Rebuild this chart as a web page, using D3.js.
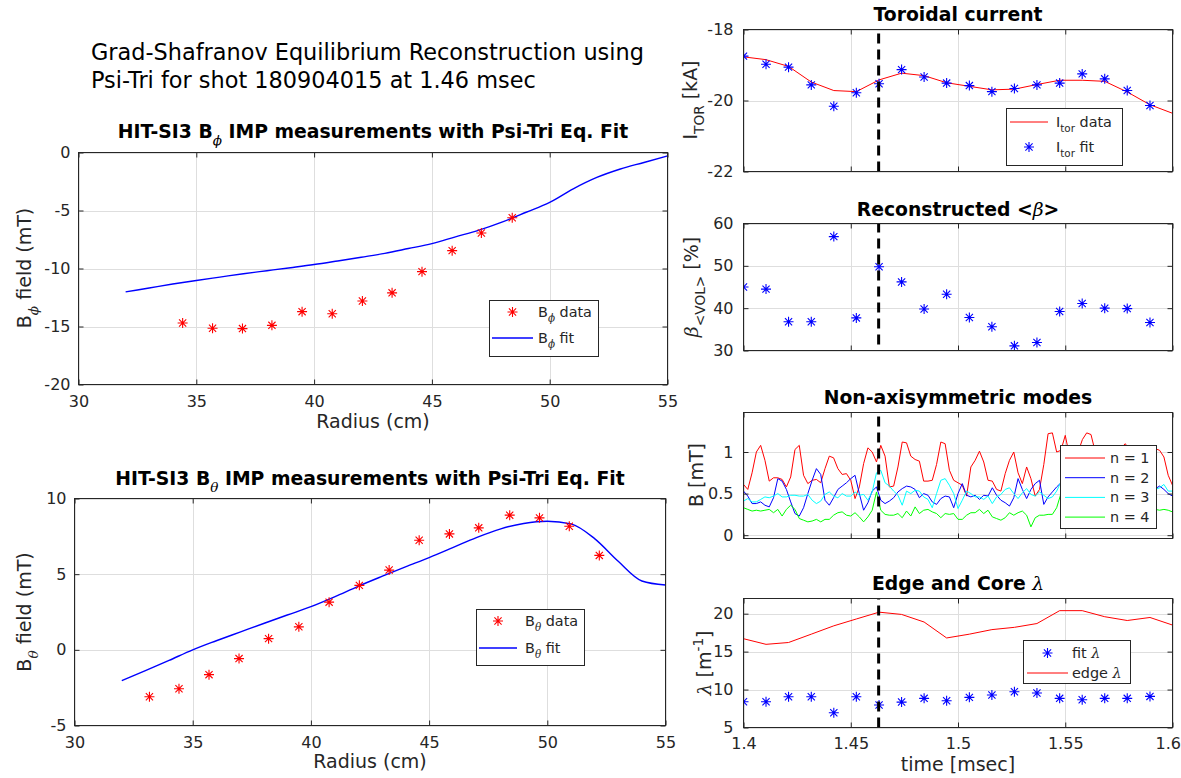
<!DOCTYPE html>
<html><head><meta charset="utf-8">
<script src="https://cdn.jsdelivr.net/npm/d3@7"></script>
<style>
body{margin:0;background:#fff;}
svg text{font-family:"DejaVu Sans",sans-serif;}
</style></head><body>
<svg id="c" width="1181" height="778"></svg>
<script>
// ---------------- data ----------------
const radiusTicks = [30,35,40,45,50,55];
const bphiTicks = [-20,-15,-10,-5,0];
const bthetaTicks = [-5,0,5,10];
const bphiR = [34.42,35.69,36.96,38.21,39.49,40.77,42.05,43.31,44.58,45.86,47.1,48.41];
const bphiData = [-14.7,-15.15,-15.18,-14.9,-13.72,-13.9,-12.8,-12.1,-10.27,-8.46,-6.94,-5.62];
const bthetaR = [33.17,34.42,35.69,36.96,38.21,39.49,40.77,42.05,43.31,44.58,45.86,47.1,48.41,49.67,50.93,52.2];
const bthetaData = [-3.1,-2.57,-1.64,-0.58,0.74,1.52,3.15,4.26,5.27,7.24,7.66,8.06,8.9,8.72,8.17,6.24];
const fitR = [32,33,34,35,36,37,38,39,40,41,42,43,44,45,46,47,48,49,50,51,52,53,54,55];
const bphiFit = [-12.02,-11.68,-11.34,-11.03,-10.74,-10.45,-10.19,-9.93,-9.66,-9.35,-9.03,-8.70,-8.28,-7.85,-7.27,-6.69,-5.98,-5.15,-4.30,-3.13,-2.15,-1.42,-0.86,-0.29];
const bthetaFit = [-2.04,-1.38,-0.70,0.00,0.60,1.17,1.74,2.30,2.85,3.50,4.20,4.85,5.48,6.09,6.75,7.42,7.98,8.35,8.50,8.32,7.35,5.85,4.55,4.28];

const timeTicks = [1.4,1.45,1.5,1.55,1.6];
const snapshotTime = 1.463;
const fitTimes = [1.400,1.4105,1.421,1.4316,1.4421,1.4526,1.4632,1.4737,1.4842,1.4947,1.5053,1.5158,1.5263,1.5368,1.5474,1.5579,1.5684,1.5789,1.5895];
const dataTimes = [1.400,1.4105,1.421,1.4316,1.4421,1.4526,1.4632,1.4737,1.4842,1.4947,1.5053,1.5158,1.5263,1.5368,1.5474,1.5579,1.5684,1.5789,1.5895,1.600];
const itorTicks = [-22,-20,-18];
const itorData = [-18.77,-18.85,-19.04,-19.48,-19.72,-19.75,-19.42,-19.23,-19.30,-19.50,-19.60,-19.70,-19.68,-19.55,-19.43,-19.43,-19.46,-19.76,-20.12,-20.36];
const itorFit = [-18.75,-18.98,-19.06,-19.56,-20.16,-19.78,-19.53,-19.13,-19.34,-19.51,-19.58,-19.75,-19.66,-19.56,-19.51,-19.25,-19.39,-19.72,-20.14];
const betaTicks = [30,40,50,60];
const betaVol = [45.0,44.5,36.8,36.8,56.9,37.7,49.8,46.2,39.8,43.3,37.8,35.6,31.1,31.9,39.2,41.1,40.0,39.9,36.6];
const lambdaTicks = [5,10,15,20];
const lambdaFit = [8.4,8.4,9.06,9.06,6.94,9.06,7.96,8.35,8.84,8.53,8.97,9.28,9.72,9.55,8.84,8.66,8.84,8.84,9.1];
const lambdaEdge = [16.7,15.96,16.2,17.3,18.4,19.3,20.2,19.9,18.9,16.8,17.3,17.9,18.2,18.7,20.4,20.4,19.6,19.1,19.5,18.5];

const modeTicks = [0,0.5,1];
const modeTimes = [1.400,1.402,1.404,1.406,1.408,1.410,1.412,1.414,1.416,1.418,
 1.420,1.422,1.424,1.426,1.428,1.430,1.432,1.434,1.436,1.438,
 1.440,1.442,1.444,1.446,1.448,1.450,1.452,1.454,1.456,1.458,
 1.460,1.462,1.464,1.466,1.468,1.470,1.472,1.474,1.476,1.478,
 1.480,1.482,1.484,1.486,1.488,1.490,1.492,1.494,1.496,1.498,
 1.500,1.502,1.504,1.506,1.508,1.510,1.512,1.514,1.516,1.518,
 1.520,1.522,1.524,1.526,1.528,1.530,1.532,1.534,1.536,1.538,
 1.540,1.542,1.544,1.546,1.548,1.550,1.552,1.554,1.556,1.558,
 1.560,1.562,1.564,1.566,1.568,1.570,1.572,1.574,1.576,1.578,
 1.580,1.582,1.584,1.586,1.588,1.590,1.592,1.594,1.596,1.598,
 1.600];
const modeN1 = [0.61,0.55,0.75,1.00,1.08,0.90,0.65,0.69,0.69,0.67,
 0.58,0.70,1.03,1.08,0.72,0.62,0.66,0.67,0.63,0.80,
 0.95,0.93,0.80,0.73,0.74,0.66,0.44,0.58,0.86,1.05,
 1.00,0.88,1.08,0.95,0.58,0.59,0.82,1.12,1.11,0.95,
 0.91,0.89,0.65,0.65,0.66,0.85,1.12,1.10,0.78,0.66,
 0.63,0.60,0.47,0.82,0.90,1.01,0.88,0.66,0.65,0.55,
 0.53,0.74,0.90,1.00,0.75,0.62,0.82,0.68,0.47,0.55,
 0.85,1.22,1.23,1.00,1.02,1.20,0.95,0.85,1.00,1.15,
 1.23,1.21,1.00,0.85,0.80,0.90,0.95,1.00,1.05,1.10,
 1.02,0.95,0.92,0.98,1.02,1.03,1.04,1.02,0.94,0.72,
 0.60];
const modeN2 = [0.53,0.47,0.38,0.38,0.40,0.36,0.34,0.45,0.68,0.65,
 0.55,0.40,0.26,0.23,0.33,0.50,0.66,0.80,0.73,0.42,
 0.36,0.45,0.55,0.59,0.63,0.68,0.72,0.50,0.30,0.39,
 0.53,0.58,0.42,0.38,0.41,0.45,0.52,0.56,0.59,0.58,
 0.55,0.45,0.50,0.48,0.40,0.37,0.44,0.47,0.46,0.33,
 0.50,0.62,0.48,0.46,0.48,0.43,0.48,0.47,0.57,0.48,
 0.42,0.39,0.35,0.45,0.68,0.55,0.44,0.55,0.62,0.66,
 0.37,0.46,0.52,0.58,0.63,0.62,0.55,0.50,0.47,0.52,
 0.58,0.55,0.48,0.45,0.52,0.57,0.53,0.49,0.46,0.52,
 0.56,0.50,0.47,0.53,0.58,0.55,0.56,0.59,0.55,0.50,
 0.47];
const modeN3 = [0.41,0.44,0.40,0.40,0.43,0.46,0.45,0.47,0.50,0.46,
 0.46,0.48,0.48,0.47,0.47,0.49,0.42,0.38,0.41,0.49,
 0.52,0.47,0.45,0.50,0.47,0.47,0.52,0.48,0.49,0.42,
 0.52,0.75,0.78,0.63,0.59,0.53,0.48,0.36,0.53,0.50,
 0.54,0.53,0.46,0.43,0.33,0.50,0.66,0.68,0.60,0.50,
 0.32,0.42,0.53,0.50,0.46,0.46,0.43,0.47,0.38,0.46,
 0.49,0.55,0.57,0.50,0.44,0.51,0.56,0.49,0.47,0.52,
 0.48,0.44,0.46,0.53,0.64,0.60,0.55,0.50,0.52,0.57,
 0.53,0.49,0.54,0.58,0.52,0.48,0.53,0.56,0.50,0.47,
 0.52,0.55,0.50,0.53,0.57,0.52,0.55,0.57,0.61,0.53,
 0.53];
const modeN4 = [0.33,0.31,0.29,0.30,0.29,0.30,0.31,0.27,0.31,0.23,
 0.31,0.36,0.31,0.20,0.18,0.16,0.17,0.19,0.16,0.19,
 0.19,0.24,0.27,0.28,0.24,0.23,0.27,0.22,0.16,0.22,
 0.30,0.52,0.30,0.25,0.24,0.24,0.26,0.21,0.29,0.23,
 0.34,0.26,0.30,0.31,0.28,0.26,0.21,0.26,0.25,0.26,
 0.19,0.19,0.24,0.27,0.27,0.31,0.26,0.30,0.22,0.20,
 0.18,0.21,0.27,0.24,0.27,0.29,0.24,0.10,0.21,0.24,
 0.24,0.25,0.25,0.33,0.50,0.56,0.45,0.38,0.34,0.31,
 0.33,0.29,0.31,0.34,0.30,0.28,0.32,0.35,0.31,0.29,
 0.33,0.30,0.28,0.31,0.30,0.30,0.31,0.30,0.31,0.30,
 0.28];

// ---------------- drawing ----------------
const svg = d3.select('#c');
svg.append('rect').attr('width',1181).attr('height',778).attr('fill','#fff');
const AX = '#262626', GRID = '#dedede', TICK_FS = 16, LAB_FS = 19, TITLE_FS = 18.8, LEG_FS = 14.4;
const PHI = '\u03D5', THETA = '\u03B8';
let clipN = 0;

function rich(parent, parts, o) {
  const t = parent.append('text').attr('x', o.x).attr('y', o.y)
    .attr('font-size', o.size).attr('text-anchor', o.anchor || 'start')
    .attr('font-weight', o.weight || 'normal').attr('fill', o.fill || AX);
  if (o.rotate) t.attr('transform', `rotate(-90,${o.x},${o.y})`);
  let shift = 0;
  parts.forEach(p => {
    const s = (typeof p === 'string') ? {t: p} : p;
    const ts = t.append('tspan').text(s.t);
    let target = 0, fs = o.size;
    if (s.sub) { target = o.size * 0.38; fs = o.size * 0.72; }
    if (s.sup) { target = -o.size * 0.42; fs = o.size * 0.72; }
    ts.attr('dy', target - shift).attr('font-size', fs);
    shift = target;
    if (s.greek) ts.attr('font-family', 'DejaVu Serif').attr('font-style', 'italic').attr('font-weight','normal');
  });
  return t;
}

function starPath(cx, cy, r) {
  const d = r * 0.72;
  return `M${cx-r},${cy}H${cx+r}M${cx},${cy-r}V${cy+r}M${cx-d},${cy-d}L${cx+d},${cy+d}M${cx-d},${cy+d}L${cx+d},${cy-d}`;
}

function panel(o) {
  const x = d3.scaleLinear().domain(o.xd).range([o.l, o.r]);
  const y = d3.scaleLinear().domain(o.yd).range([o.b, o.t]);
  const id = 'clip' + (clipN++);
  svg.append('clipPath').attr('id', id).append('rect')
    .attr('x', o.l).attr('y', o.t).attr('width', o.r - o.l).attr('height', o.b - o.t);
  const grid = svg.append('g');
  grid.selectAll('line.gx').data(o.xt).join('line').attr('class','gx')
    .attr('x1', d => Math.round(x(d)) + 0.5).attr('x2', d => Math.round(x(d)) + 0.5)
    .attr('y1', o.t).attr('y2', o.b).attr('stroke', GRID);
  grid.selectAll('line.gy').data(o.yt).join('line').attr('class','gy')
    .attr('y1', d => Math.round(y(d)) + 0.5).attr('y2', d => Math.round(y(d)) + 0.5)
    .attr('x1', o.l).attr('x2', o.r).attr('stroke', GRID);
  const plot = svg.append('g').attr('clip-path', `url(#${id})`);
  const axes = svg.append('g');
  function styleAxis(g) {
    g.select('.domain').remove();
    g.selectAll('.tick line').attr('stroke', AX);
    g.selectAll('.tick text').attr('fill', AX).attr('font-size', TICK_FS)
      .attr('font-family', '"DejaVu Sans",sans-serif');
  }
  const fmt = d => String(d);
  const p = {x, y, plot, o, draw() {
    p.bottomAxis = axes.append('g').attr('transform', `translate(0,${o.b})`)
      .call(d3.axisBottom(x).tickValues(o.xt).tickSize(-5).tickSizeOuter(0).tickPadding(o.xpad)
        .tickFormat(o.showX ? fmt : () => '')).call(styleAxis);
    axes.append('g').attr('transform', `translate(0,${o.t})`)
      .call(d3.axisTop(x).tickValues(o.xt).tickSize(-5).tickSizeOuter(0).tickFormat(() => '')).call(styleAxis);
    axes.append('g').attr('transform', `translate(${o.l},0)`)
      .call(d3.axisLeft(y).tickValues(o.yt).tickSize(-5).tickSizeOuter(0).tickPadding(o.ypad).tickFormat(fmt)).call(styleAxis);
    axes.append('g').attr('transform', `translate(${o.r},0)`)
      .call(d3.axisRight(y).tickValues(o.yt).tickSize(-5).tickSizeOuter(0).tickFormat(() => '')).call(styleAxis);
    axes.append('rect').attr('x', o.l).attr('y', o.t).attr('width', o.r - o.l).attr('height', o.b - o.t)
      .attr('fill', 'none').attr('stroke', AX);
  }};
  return p;
}

function stars(p, xs, ys, color, r) {
  p.plot.append('g').selectAll('path').data(xs.map((v, i) => [v, ys[i]])).join('path')
    .attr('d', d => starPath(p.x(d[0]), p.y(d[1]), r || 5))
    .attr('stroke', color).attr('stroke-width', 1.1).attr('fill', 'none');
}
function line(p, xs, ys, color, w, curve) {
  const gen = d3.line().x(d => p.x(d[0])).y(d => p.y(d[1]));
  if (curve) gen.curve(curve);
  p.plot.append('path').datum(xs.map((v, i) => [v, ys[i]])).attr('d', gen)
    .attr('fill', 'none').attr('stroke', color).attr('stroke-width', w || 1).attr('stroke-linejoin','round');
}
function vdash(p, t, y0, y1) {
  p.plot.append('line').attr('x1', p.x(t)).attr('x2', p.x(t)).attr('y1', p.y(y0)).attr('y2', p.y(y1))
    .attr('stroke', '#000').attr('stroke-width', 3).attr('stroke-dasharray', '10,6');
}
function legend(box, entries) {
  const g = svg.append('g');
  g.append('rect').attr('x', box.x + 0.5).attr('y', box.y + 0.5).attr('width', box.w).attr('height', box.h)
    .attr('fill', '#fff').attr('stroke', AX);
  entries.forEach(e => {
    if (e.type === 'line') {
      g.append('line').attr('x1', e.x1).attr('x2', e.x2).attr('y1', e.y).attr('y2', e.y)
        .attr('stroke', e.color).attr('stroke-width', e.w || 1);
    } else {
      g.append('path').attr('d', starPath((e.x1 + e.x2) / 2, e.y, 5)).attr('stroke', e.color).attr('stroke-width', 1.1).attr('fill','none');
    }
    rich(g, e.parts, {x: e.tx, y: e.y + 5, size: LEG_FS, fill: AX});
  });
}

// ---- main title ----
rich(svg, ['Grad-Shafranov Equilibrium Reconstruction using'], {x: 91, y: 60, size: 22.4, fill: '#000'});
rich(svg, ['Psi-Tri for shot 180904015 at 1.46 msec'], {x: 91, y: 88, size: 22.4, fill: '#000'});

// ---- B_phi panel ----
const p1 = panel({l: 78.5, r: 667.5, t: 152.5, b: 384.5, xd: [30, 55], yd: [-20, 0], xt: radiusTicks, yt: bphiTicks, showX: true, xpad: 11, ypad: 8});
line(p1, fitR, bphiFit, '#0000ff', 1.4, d3.curveMonotoneX);
stars(p1, bphiR, bphiData, '#ff0000');
p1.draw();
rich(svg, ['HIT-SI3 B', {t: PHI, sub: true, greek: true}, ' IMP measurements with Psi-Tri Eq. Fit'], {x: 373, y: 138, size: TITLE_FS, anchor: 'middle', weight: 'bold', fill: '#000'});
rich(svg, ['B', {t: PHI, sub: true, greek: true}, ' field (mT)'], {x: 31, y: 268, size: LAB_FS, anchor: 'middle', rotate: true});
rich(svg, ['Radius (cm)'], {x: 373, y: 428, size: LAB_FS, anchor: 'middle'});
legend({x: 489, y: 300, w: 109, h: 56}, [
  {type: 'star', color: '#ff0000', x1: 492, x2: 533, y: 312, tx: 538, parts: ['B', {t: PHI, sub: true, greek: true}, ' data']},
  {type: 'line', color: '#0000ff', w: 1.4, x1: 492, x2: 533, y: 338, tx: 538, parts: ['B', {t: PHI, sub: true, greek: true}, ' fit']}
]);

// ---- B_theta panel ----
const p2 = panel({l: 74.5, r: 665.5, t: 498.5, b: 725.5, xd: [30, 55], yd: [-5, 10], xt: radiusTicks, yt: bthetaTicks, showX: true, xpad: 11, ypad: 8});
line(p2, fitR, bthetaFit, '#0000ff', 1.4, d3.curveMonotoneX);
stars(p2, bthetaR, bthetaData, '#ff0000');
p2.draw();
rich(svg, ['HIT-SI3 B', {t: THETA, sub: true, greek: true}, ' IMP measurements with Psi-Tri Eq. Fit'], {x: 370, y: 485, size: TITLE_FS, anchor: 'middle', weight: 'bold', fill: '#000'});
rich(svg, ['B', {t: THETA, sub: true, greek: true}, ' field (mT)'], {x: 31, y: 612, size: LAB_FS, anchor: 'middle', rotate: true});
rich(svg, ['Radius (cm)'], {x: 370, y: 768, size: LAB_FS, anchor: 'middle'});
legend({x: 476, y: 609, w: 108, h: 56}, [
  {type: 'star', color: '#ff0000', x1: 479, x2: 517, y: 621, tx: 525, parts: ['B', {t: THETA, sub: true, greek: true}, ' data']},
  {type: 'line', color: '#0000ff', w: 1.4, x1: 479, x2: 517, y: 648, tx: 525, parts: ['B', {t: THETA, sub: true, greek: true}, ' fit']}
]);

// ---- right column ----
const RL = 743.5, RR = 1172.5, RC = 958;
const q1 = panel({l: RL, r: RR, t: 29.5, b: 171.5, xd: [1.4, 1.6], yd: [-22, -18], xt: timeTicks, yt: itorTicks, showX: false, xpad: 10, ypad: 10});
line(q1, dataTimes, itorData, '#ff0000', 1);
stars(q1, fitTimes, itorFit, '#0000ff');
vdash(q1, snapshotTime, -22, -18);
q1.draw();
rich(svg, ['Toroidal current'], {x: RC, y: 21, size: TITLE_FS, anchor: 'middle', weight: 'bold', fill: '#000'});
rich(svg, ['I', {t: 'TOR', sub: true}, ' [kA]'], {x: 697, y: 100, size: LAB_FS, anchor: 'middle', rotate: true});
legend({x: 1006, y: 108, w: 116, h: 57}, [
  {type: 'line', color: '#ff0000', x1: 1010, x2: 1048, y: 122, tx: 1056, parts: ['I', {t: 'tor', sub: true}, ' data']},
  {type: 'star', color: '#0000ff', x1: 1010, x2: 1048, y: 147, tx: 1056, parts: ['I', {t: 'tor', sub: true}, ' fit']}
]);

const q2 = panel({l: RL, r: RR, t: 223.5, b: 350.5, xd: [1.4, 1.6], yd: [30, 60], xt: timeTicks, yt: betaTicks, showX: false, xpad: 10, ypad: 10});
stars(q2, fitTimes, betaVol, '#0000ff');
vdash(q2, snapshotTime, 31.4, 60);
q2.draw();
rich(svg, ['Reconstructed <', {t: 'β', greek: true}, '>'], {x: RC, y: 216, size: TITLE_FS, anchor: 'middle', weight: 'bold', fill: '#000'});
rich(svg, [{t: 'β', greek: true}, {t: '<VOL>', sub: true}, ' [%]'], {x: 698, y: 287, size: LAB_FS, anchor: 'middle', rotate: true});

const q3 = panel({l: RL, r: RR, t: 412.5, b: 538.5, xd: [1.4, 1.6], yd: [-0.04, 1.475], xt: timeTicks, yt: modeTicks, showX: false, xpad: 10, ypad: 10});
line(q3, modeTimes, modeN1, '#ff0000', 1);
line(q3, modeTimes, modeN2, '#0000ff', 1);
line(q3, modeTimes, modeN3, '#00ffff', 1);
line(q3, modeTimes, modeN4, '#00ff00', 1);
vdash(q3, snapshotTime, -0.04, 1.475);
q3.draw();
rich(svg, ['Non-axisymmetric modes'], {x: RC, y: 404, size: TITLE_FS, anchor: 'middle', weight: 'bold', fill: '#000'});
rich(svg, ['B [mT]'], {x: 703, y: 475, size: LAB_FS, anchor: 'middle', rotate: true});
const modeColors = ['#ff0000', '#0000ff', '#00ffff', '#00ff00'];
const modeLabels = ['n = 1', 'n = 2', 'n = 3', 'n = 4'];
legend({x: 1060, y: 445, w: 96, h: 83}, modeLabels.map((lb, i) => (
  {type: 'line', color: modeColors[i], x1: 1065, x2: 1105, y: 458 + i * 19.7, tx: 1110, parts: [lb]})));

const q4 = panel({l: RL, r: RR, t: 598.5, b: 727.5, xd: [1.4, 1.6], yd: [5, 22], xt: timeTicks, yt: lambdaTicks, showX: true, xpad: 10, ypad: 10});
line(q4, dataTimes, lambdaEdge, '#ff0000', 1);
stars(q4, fitTimes, lambdaFit, '#0000ff');
vdash(q4, snapshotTime, 5, 22);
q4.draw();
// keep the last time label inside the page
q4.bottomAxis.selectAll('.tick text').filter(d => d === 1.6).attr('text-anchor', 'end').attr('dx', 8);
rich(svg, ['Edge and Core ', {t: 'λ', greek: true}], {x: RC, y: 590, size: TITLE_FS, anchor: 'middle', weight: 'bold', fill: '#000'});
rich(svg, [{t: 'λ', greek: true}, ' [m', {t: '-1', sup: true}, ']'], {x: 711, y: 663, size: LAB_FS, anchor: 'middle', rotate: true});
rich(svg, ['time [msec]'], {x: RC, y: 771, size: LAB_FS, anchor: 'middle'});
legend({x: 1023, y: 640, w: 107, h: 43}, [
  {type: 'star', color: '#0000ff', x1: 1027, x2: 1068, y: 653, tx: 1072, parts: ['fit ', {t: 'λ', greek: true}]},
  {type: 'line', color: '#ff0000', x1: 1027, x2: 1068, y: 673, tx: 1072, parts: ['edge ', {t: 'λ', greek: true}]}
]);
</script>
</body></html>
